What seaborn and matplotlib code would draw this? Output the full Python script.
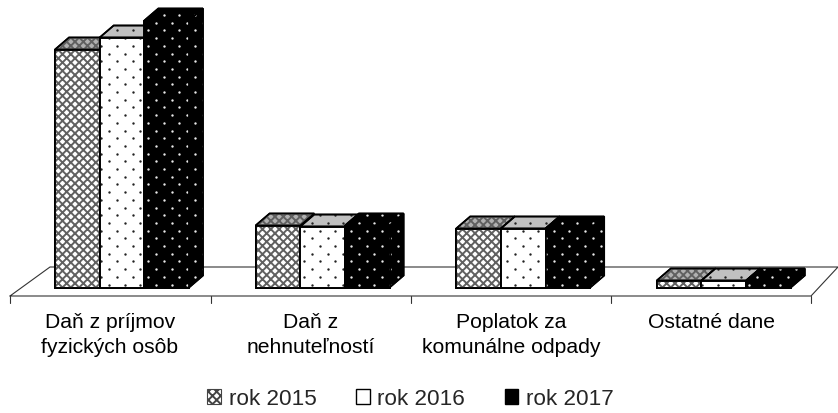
import numpy as np
import pandas as pd
import matplotlib
matplotlib.use("Agg")
import matplotlib.pyplot as plt
from matplotlib.patches import Patch, Polygon
import seaborn as sns

# values (no value axis there, so the unit is the pixel height)
categories = ["Daň z príjmov\nfyzických osôb", "Daň z\nnehnuteľností", "Poplatok za\nkomunálne odpady", "Ostatné dane"]
years = ["rok 2015", "rok 2016", "rok 2017"]
rok_2015 = [238, 62, 59, 7]
rok_2016 = [250, 61, 59, 7]
rok_2017 = [267, 62, 59, 7]

# scale of the axes: pixels of one category step, first bar group centre, baseline
STEP = 200.6
X0 = 122
BASE = 288.5
DX, DY = 14 / STEP, 12

df = pd.DataFrame({"category": categories, "rok 2015": rok_2015, "rok 2016": rok_2016, "rok 2017": rok_2017})
df = df.melt(id_vars="category", var_name="year", value_name="value")

sns.set_theme(style="white")
plt.rcParams["font.family"] = ["Liberation Sans", "DejaVu Sans"]
plt.rcParams["hatch.linewidth"] = 1.4

fig = plt.figure(figsize=(8.38, 4.14), dpi=100)
ax = fig.add_axes([0, 0, 1, 1])
sns.barplot(data=df, x="category", y="value", hue="year", order=categories, hue_order=years,
            palette=["white", "white", "black"], width=0.668, gap=0, dodge=True,
            edgecolor="black", linewidth=1.2, legend=False, ax=ax)
ax.set_xlim(-X0 / STEP, (838 - X0) / STEP)
ax.set_ylim(BASE - 414, BASE)
ax.set_axis_off()


def px(x):
    return (x - X0) / STEP


# floor of the 3D chart and its ticks
floor = [(10, -8.5), (811, -8.5), (838, 20.5), (50, 20.5), (10, -8.5)]
ax.plot([px(p[0]) for p in floor], [p[1] for p in floor], color="#333333", lw=0.8, zorder=0.5, clip_on=False)
for t in [10, 210.5, 410.5, 611, 811]:
    ax.plot([px(t), px(t)], [-8.5, -15], color="#333333", lw=0.8, zorder=0.5)


def dots(poly, color, z):
    xs = [p[0] * STEP + X0 for p in poly.get_xy()]
    ys = [p[1] for p in poly.get_xy()]
    rows = np.arange(np.floor(min(ys) / 7.7), np.ceil(max(ys) / 7.7) + 1)
    for r in rows:
        off = 0 if int(r) % 2 == 0 else 7.8
        cols = np.arange(np.floor(min(xs) / 15.6) - 1, np.ceil(max(xs) / 15.6) + 1) * 15.6 + off
        pts = ax.scatter((cols - X0) / STEP, np.full(cols.shape, r * 7.7 + 3), s=3.0, color=color,
                         linewidths=0, zorder=z)
        pts.set_clip_path(poly)


def face(corners, fc, style, z):
    poly = Polygon(corners, closed=True, facecolor=fc, edgecolor="black", lw=1.2, zorder=z)
    ax.add_patch(poly)
    if style == "mesh":
        ax.add_patch(Polygon(corners, closed=True, facecolor="none", edgecolor="#606060", lw=0, hatch="xxxx", zorder=z + 0.1))
    elif style == "dark":
        dots(poly, "#222222", z + 0.1)
    elif style == "light":
        dots(poly, "#e8e8e8", z + 0.1)
    ax.add_patch(Polygon(corners, closed=True, facecolor="none", edgecolor="black", lw=1.2, zorder=z + 0.2))


front_style = ["mesh", "dark", "light"]
top_style = [("#b0b0b0", "mesh"), ("#c0c0c0", "dark"), ("black", "light")]

z = 3
for i, bars in enumerate(ax.containers):
    for bar in bars:
        x0, w, h = bar.get_x(), bar.get_width(), bar.get_height()
        x1 = x0 + w
        top = [(x0, h), (x1, h), (x1 + DX, h + DY), (x0 + DX, h + DY)]
        face(top, top_style[i][0], top_style[i][1], z)
        if i == 2:
            side = [(x1, 0), (x1 + DX, DY), (x1 + DX, h + DY), (x1, h)]
            face(side, "black", "light", z)
        face([(x0, 0), (x1, 0), (x1, h), (x0, h)], "white" if i < 2 else "black", front_style[i], z + 1)
        z += 2

for i, cat in enumerate(categories):
    ax.text(i - 0.06, -24, cat, ha="center", va="top", fontsize=15.2, color="black", linespacing=1.45)

handles = [Patch(facecolor="white", edgecolor="#444444", hatch="xxxx", lw=0.8),
           Patch(facecolor="white", edgecolor="black", lw=1),
           Patch(facecolor="black", edgecolor="black", lw=1)]
ax.legend(handles, years, loc="center", bbox_to_anchor=(0.49, 0.034), ncol=3, frameon=False, fontsize=16.2,
          handlelength=0.6, handleheight=0.6, handletextpad=0.35, columnspacing=1.75, borderpad=0)

fig.savefig("out.png", dpi=100)
